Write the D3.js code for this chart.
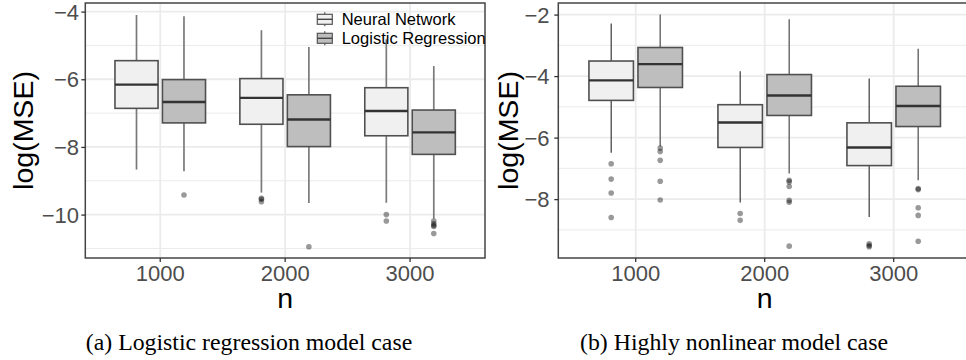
<!DOCTYPE html>
<html>
<head>
<meta charset="utf-8">
<script src="https://cdn.jsdelivr.net/npm/d3@7"></script>
<style>
  body { margin: 0; background: #fff; }
  svg { display: block; }
</style>
</head>
<body>
<div id="chart"></div>
<script>
// categories and series
var sizes = ['1000', '2000', '3000'];
var series = ['Neural Network', 'Logistic Regression'];

// box stats per n: [lower whisker, q1, median, q3, upper whisker]
// (a) logistic regression model case
var nnA = [[-8.67, -6.86, -6.16, -5.45, -4.10],
           [-9.35, -7.33, -6.55, -5.98, -4.55],
           [-9.65, -7.67, -6.94, -6.25, -4.82]];
var lrA = [[-8.72, -7.29, -6.67, -6.01, -4.14],
           [-9.66, -7.99, -7.19, -6.46, -5.05],
           [-10.12, -8.22, -7.57, -6.91, -5.61]];
var nnOutA = [[], [-9.52, -9.55, -9.62], [-10.00, -10.19]];
var lrOutA = [[-9.42], [-10.95], [-10.19, -10.27, -10.32, -10.35, -10.56]];

// (b) highly nonlinear model case
var nnB = [[-6.49, -4.79, -4.14, -3.51, -2.29],
           [-8.11, -6.32, -5.51, -4.93, -3.84],
           [-8.58, -6.91, -6.32, -5.52, -4.08]];
var lrB = [[-6.28, -4.37, -3.61, -3.07, -2.00],
           [-7.17, -5.28, -4.63, -3.95, -2.15],
           [-7.39, -5.64, -4.97, -4.33, -3.11]];
var nnOutB = [[-6.85, -7.35, -7.80, -8.60], [-8.47, -8.69], [-9.45, -9.51, -9.55]];
var lrOutB = [[-6.34, -6.45, -6.74, -7.42, -8.03],
              [-7.39, -7.44, -7.59, -8.04, -8.10, -9.53],
              [-7.66, -7.69, -8.28, -8.53, -9.37]];

// axis ticks
var ticksA = [-10, -8, -6, -4], minorA = [-11, -9, -7, -5];
var ticksB = [-8, -6, -4, -2], minorB = [-9, -7, -5, -3];

var captions = ['(a) Logistic regression model case', '(b) Highly nonlinear model case'];

var fills = ['#f0f0f0', '#bebebe'];
var sans = "'Liberation Sans', Arial, Helvetica, sans-serif";
var serif = "'Liberation Serif', 'Times New Roman', serif";

var W = 966, H = 360;
var svg = d3.select('#chart').append('svg')
    .attr('width', W)
    .attr('height', H);

var panels = [
  { left: 85.3, right: 485, dom: [-11.283, -3.746], ticks: ticksA, minor: minorA,
    nn: nnA, lr: lrA, nnOut: nnOutA, lrOut: lrOutA, legend: true, capX: 249,
    ylabX: 79, titleX: 32.5, whisk: ['#7a7a7a', '#7a7a7a'], whW: [1.7, 1.7] },
  { left: 558.3, right: 971.1, dom: [-9.915, -1.623], ticks: ticksB, minor: minorB,
    nn: nnB, lr: lrB, nnOut: nnOutB, lrOut: lrOutB, legend: false, capX: 734,
    ylabX: 549.5, titleX: 517.5, whisk: ['#3a3a3a', '#6e6e6e'], whW: [1.2, 1.5] }
];

var panelTop = 3, panelBottom = 258;

panels.forEach(function (p, pi) {
  var g = svg.append('g');

  var x = d3.scaleBand()
      .domain(sizes)
      .range([p.left, p.right])
      .paddingInner(0)
      .paddingOuter(0.1);
  var y = d3.scaleLinear()
      .domain(p.dom)
      .range([panelBottom, panelTop]);

  var step = x.step();
  var cx = function (c) { return x(c) + x.bandwidth() / 2; };

  // grid
  g.selectAll('.minor')
      .data(p.minor)
      .enter().append('line')
      .attr('x1', p.left).attr('x2', p.right)
      .attr('y1', d => y(d)).attr('y2', d => y(d))
      .attr('stroke', '#ebebeb').attr('stroke-width', 1);
  g.selectAll('.major')
      .data(p.ticks)
      .enter().append('line')
      .attr('x1', p.left).attr('x2', p.right)
      .attr('y1', d => y(d)).attr('y2', d => y(d))
      .attr('stroke', '#ebebeb').attr('stroke-width', 1.8);
  g.selectAll('.vgrid')
      .data(sizes)
      .enter().append('line')
      .attr('x1', cx).attr('x2', cx)
      .attr('y1', panelTop).attr('y2', panelBottom)
      .attr('stroke', '#ebebeb').attr('stroke-width', 1.8);

  // boxes
  var groups = [
    { stats: p.nn, out: p.nnOut, off: -0.19, fill: fills[0], wc: p.whisk[0], ww: p.whW[0] },
    { stats: p.lr, out: p.lrOut, off: 0.19, fill: fills[1], wc: p.whisk[1], ww: p.whW[1] }
  ];
  var bw = 0.345 * step;

  groups.forEach(function (s) {
    sizes.forEach(function (c, i) {
      var st = s.stats[i];
      var xc = cx(c) + s.off * step;
      // whiskers
      g.append('line')
          .attr('x1', xc).attr('x2', xc)
          .attr('y1', y(st[4])).attr('y2', y(st[3]))
          .attr('stroke', s.wc).attr('stroke-width', s.ww);
      g.append('line')
          .attr('x1', xc).attr('x2', xc)
          .attr('y1', y(st[1])).attr('y2', y(st[0]))
          .attr('stroke', s.wc).attr('stroke-width', s.ww);
      // box
      g.append('rect')
          .attr('x', xc - bw / 2)
          .attr('y', y(st[3]))
          .attr('width', bw)
          .attr('height', y(st[1]) - y(st[3]))
          .attr('fill', s.fill)
          .attr('stroke', '#505050')
          .attr('stroke-width', 1.6);
      g.append('line')
          .attr('x1', xc - bw / 2).attr('x2', xc + bw / 2)
          .attr('y1', y(st[2])).attr('y2', y(st[2]))
          .attr('stroke', '#333').attr('stroke-width', 2.4);
      // outliers
      g.selectAll(null)
          .data(s.out[i])
          .enter().append('circle')
          .attr('cx', xc)
          .attr('cy', d => y(d))
          .attr('r', 2.8)
          .attr('fill', '#000')
          .attr('fill-opacity', 0.4);
    });
  });

  // panel border
  g.append('rect')
      .attr('x', p.left).attr('y', panelTop)
      .attr('width', p.right - p.left).attr('height', panelBottom - panelTop)
      .attr('fill', 'none')
      .attr('stroke', '#444').attr('stroke-width', 1.5);

  // y axis
  var yAxis = d3.axisLeft(y).tickValues(p.ticks).tickSize(4).tickPadding(2)
      .tickFormat(d => d3.format('d')(d).replace('-', '\u2212'));
  var ya = g.append('g')
      .attr('transform', 'translate(' + p.left + ',0)')
      .call(yAxis);
  ya.select('.domain').remove();
  ya.selectAll('.tick line').attr('stroke', '#333').attr('stroke-width', 1.3);
  ya.selectAll('.tick text')
      .attr('x', p.ylabX - p.left)
      .attr('dy', '0.35em')
      .attr('fill', '#4d4d4d')
      .style('font-family', sans)
      .style('font-size', '22px');

  // x axis
  var xAxis = d3.axisBottom(x).tickSize(4).tickPadding(6);
  var xa = g.append('g')
      .attr('transform', 'translate(0,' + panelBottom + ')')
      .call(xAxis);
  xa.select('.domain').remove();
  xa.selectAll('.tick line').attr('stroke', '#333').attr('stroke-width', 1.3);
  xa.selectAll('.tick text')
      .attr('y', 23)
      .attr('dy', null)
      .attr('fill', '#4d4d4d')
      .style('font-family', sans)
      .style('font-size', '22px');

  // titles
  g.append('text')
      .attr('x', (p.left + p.left + 3.2 * step) / 2)
      .attr('y', 308)
      .attr('text-anchor', 'middle')
      .style('font-family', sans)
      .style('font-size', '28.5px')
      .text('n');
  g.append('text')
      .attr('transform', 'translate(' + p.titleX + ',' + (panelTop + panelBottom) / 2 + ') rotate(-90)')
      .attr('text-anchor', 'middle')
      .style('font-family', sans)
      .style('font-size', '28.5px')
      .text('log(MSE)');

  // caption
  g.append('text')
      .attr('x', p.capX)
      .attr('y', 350)
      .attr('text-anchor', 'middle')
      .style('font-family', serif)
      .style('font-size', '23.8px')
      .text(captions[pi]);

  // legend
  if (p.legend) {
    var lg = g.append('g');
    series.forEach(function (name, i) {
      var ky = 19.3 + i * 19;
      var kx = 324.8;
      lg.append('line')
          .attr('x1', kx).attr('x2', kx)
          .attr('y1', ky - 7).attr('y2', ky + 7)
          .attr('stroke', '#555').attr('stroke-width', 1.2);
      lg.append('rect')
          .attr('x', kx - 7.5).attr('y', ky - 5)
          .attr('width', 15).attr('height', 10)
          .attr('fill', fills[i])
          .attr('stroke', '#555').attr('stroke-width', 1.2);
      lg.append('line')
          .attr('x1', kx - 7.5).attr('x2', kx + 7.5)
          .attr('y1', ky).attr('y2', ky)
          .attr('stroke', '#444').attr('stroke-width', 1.4);
      lg.append('text')
          .attr('x', 341.7)
          .attr('y', ky)
          .attr('dy', '0.35em')
          .style('font-family', sans)
          .style('font-size', '16.5px')
          .text(name);
    });
  }
});
</script>
</body>
</html>
